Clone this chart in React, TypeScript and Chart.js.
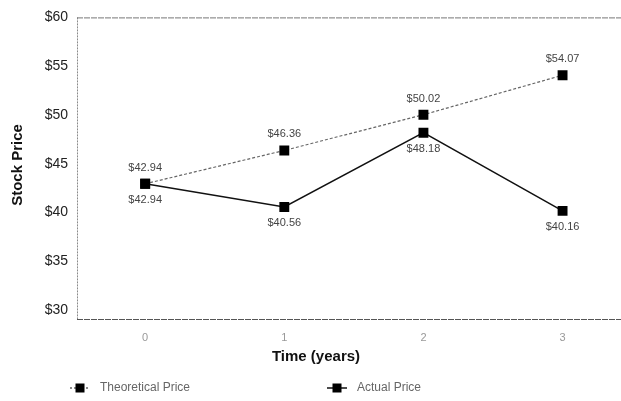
import React, { useEffect, useRef } from "react";
import { Chart, registerables } from "chart.js";

Chart.register(...registerables);

// Years since start
const years = [0, 1, 2, 3];
// Price paths
const theoreticalPrice = [42.94, 46.36, 50.02, 54.07];
const actualPrice = [42.94, 40.56, 48.18, 40.16];
// Vertical axis ticks
const yTicks = [30, 35, 40, 45, 50, 55, 60];

const yTitle = "Stock Price";
const xTitle = "Time (years)";
const seriesNames = ["Theoretical Price", "Actual Price"];

const money = (v: number) => "$" + v.toFixed(2);

const decorations = {
  id: "decorations",
  afterDatasetsDraw(chart: any) {
    const { ctx, chartArea } = chart;
    const { left, top } = chartArea;
    const floor = chartArea.bottom + 9;
    const right = chart.width;
    ctx.save();

    // frame: dotted left edge, top and bottom rules
    ctx.strokeStyle = "#8a8a8a";
    ctx.lineWidth = 1;
    ctx.setLineDash([2, 1]);
    ctx.beginPath();
    ctx.moveTo(left + 0.5, top);
    ctx.lineTo(left + 0.5, floor);
    ctx.stroke();
    ctx.setLineDash([6, 1]);
    ctx.strokeStyle = "#777";
    ctx.beginPath();
    ctx.moveTo(left, top + 0.5);
    ctx.lineTo(right, top + 0.5);
    ctx.stroke();
    ctx.strokeStyle = "#555";
    ctx.beginPath();
    ctx.moveTo(left, floor + 0.5);
    ctx.lineTo(right, floor + 0.5);
    ctx.stroke();
    ctx.setLineDash([]);

    // value labels
    ctx.font = "11px 'Liberation Sans', Arial, sans-serif";
    ctx.fillStyle = "#444";
    ctx.textAlign = "center";
    ctx.textBaseline = "middle";
    chart.data.datasets.forEach((ds: any, di: number) => {
      const meta = chart.getDatasetMeta(di);
      meta.data.forEach((pt: any, i: number) => {
        const dy = di === 0 ? -16 : 16;
        ctx.fillText(money(ds.data[i].y), pt.x, pt.y + dy);
      });
    });

    // axis titles
    ctx.fillStyle = "#111";
    ctx.font = "bold 15px 'Liberation Sans', Arial, sans-serif";
    ctx.fillText(xTitle, 316, 357);
    ctx.save();
    ctx.translate(18, 165);
    ctx.rotate(-Math.PI / 2);
    ctx.fillText(yTitle, 0, 0);
    ctx.restore();

    // legend
    const legendY = 388;
    const items = [
      { x: 80, dash: [2, 2], color: "#666", name: seriesNames[0] },
      { x: 337, dash: [], color: "#111", name: seriesNames[1] },
    ];
    ctx.font = "12px 'Liberation Sans', Arial, sans-serif";
    ctx.textAlign = "left";
    items.forEach((it) => {
      ctx.strokeStyle = it.color;
      ctx.lineWidth = 1.5;
      ctx.setLineDash(it.dash);
      ctx.beginPath();
      ctx.moveTo(it.x - 10, legendY);
      ctx.lineTo(it.x + 10, legendY);
      ctx.stroke();
      ctx.setLineDash([]);
      ctx.fillStyle = "#000";
      ctx.fillRect(it.x - 4.5, legendY - 4.5, 9, 9);
      ctx.fillStyle = "#666";
      ctx.fillText(it.name, it.x + 20, legendY);
    });
    ctx.restore();
  },
};

export default function App() {
  const ref = useRef<HTMLCanvasElement | null>(null);

  useEffect(() => {
    if (!ref.current) return;
    const chart = new Chart(ref.current, {
      type: "line",
      data: {
        datasets: [
          {
            label: seriesNames[0],
            data: years.map((x, i) => ({ x, y: theoreticalPrice[i] })),
            borderColor: "#666",
            borderWidth: 1.2,
            borderDash: [3, 2],
            pointStyle: "rect",
            pointRadius: 7,
            pointBackgroundColor: "#000",
            pointBorderColor: "#000",
            pointBorderWidth: 0,
            tension: 0,
          },
          {
            label: seriesNames[1],
            data: years.map((x, i) => ({ x, y: actualPrice[i] })),
            borderColor: "#111",
            borderWidth: 1.5,
            pointStyle: "rect",
            pointRadius: 7,
            pointBackgroundColor: "#000",
            pointBorderColor: "#000",
            pointBorderWidth: 0,
            tension: 0,
          },
        ],
      },
      options: {
        responsive: false,
        animation: false,
        layout: { autoPadding: false, padding: { top: 14, right: 0, left: 0, bottom: 0 } },
        plugins: { legend: { display: false }, tooltip: { enabled: false } },
        scales: {
          x: {
            type: "linear",
            min: -0.49,
            max: 3.42,
            grid: { display: false, drawTicks: false },
            border: { display: false },
            afterBuildTicks: (s: any) => {
              s.ticks = years.map((v) => ({ value: v }));
            },
            afterFit: (s: any) => {
              s.height = 91;
            },
            ticks: {
              padding: 21,
              color: "#999",
              font: { family: "'Liberation Sans', Arial, sans-serif", size: 11 },
              callback: (v: any) => String(v),
            },
          },
          y: {
            min: 30,
            max: 60,
            grid: { display: false, drawTicks: false },
            border: { display: false },
            afterBuildTicks: (s: any) => {
              s.ticks = yTicks.map((v) => ({ value: v }));
            },
            afterFit: (s: any) => {
              s.width = 77;
            },
            ticks: {
              padding: 9,
              color: "#222",
              font: { family: "'Liberation Sans', Arial, sans-serif", size: 14 },
              callback: (v: any) => "$" + v,
            },
          },
        },
      },
      plugins: [decorations],
    });
    return () => chart.destroy();
  }, []);

  return (
    <div style={{ position: "fixed", left: 0, top: 0, width: 621, height: 401, background: "#fff" }}>
      <canvas ref={ref} width={621} height={401} />
    </div>
  );
}
